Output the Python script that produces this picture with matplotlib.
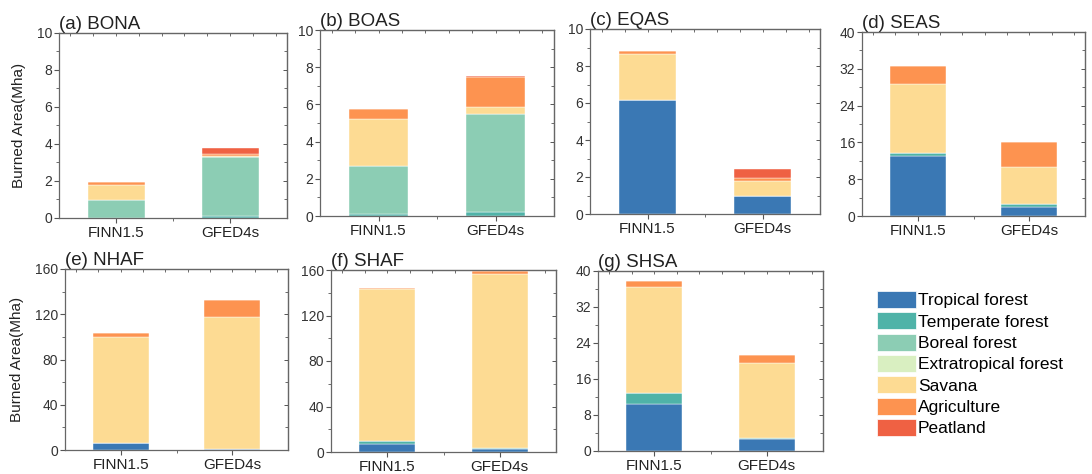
import numpy as np
import matplotlib
matplotlib.use('Agg')
import matplotlib.pyplot as plt
from matplotlib.ticker import MultipleLocator, FixedLocator
from matplotlib.patches import Patch

plt.rcParams['font.family'] = ['Liberation Sans', 'DejaVu Sans']

# 데이터 (Mha)
datasets = ['FINN1.5', 'GFED4s']
types = ['Tropical forest', 'Temperate forest', 'Boreal forest',
         'Extratropical forest', 'Savana', 'Agriculture', 'Peatland']
colors = ['#3a78b4', '#4fb3a8', '#8ccdb4', '#d9efc1', '#fddb93', '#fd9350', '#ef6143']

regions = ['(a) BONA', '(b) BOAS', '(c) EQAS', '(d) SEAS',
           '(e) NHAF', '(f) SHAF', '(g) SHSA']

# 각 지역: [FINN1.5, GFED4s], 순서 = types
BONA = [[0.0, 0.02, 0.94, 0.0, 0.83, 0.18, 0.0],
        [0.0, 0.1, 3.2, 0.0, 0.05, 0.13, 0.3]]
BOAS = [[0.0, 0.1, 2.6, 0.0, 2.52, 0.51, 0.0],
        [0.0, 0.2, 5.27, 0.0, 0.37, 1.61, 0.09]]
EQAS = [[6.18, 0.0, 0.0, 0.0, 2.49, 0.16, 0.0],
        [0.95, 0.0, 0.0, 0.0, 0.85, 0.15, 0.5]]
SEAS = [[13.1, 0.7, 0.0, 0.0, 14.9, 4.0, 0.0],
        [1.9, 0.8, 0.0, 0.0, 8.0, 5.3, 0.0]]
NHAF = [[5.9, 0.0, 0.0, 0.0, 94.4, 2.9, 0.0],
        [1.0, 0.0, 0.0, 0.0, 117.0, 15.0, 0.0]]
SHAF = [[6.8, 2.6, 0.0, 0.0, 133.9, 1.2, 0.0],
        [2.6, 0.6, 0.0, 0.0, 153.3, 2.9, 0.0]]
SHSA = [[10.4, 2.6, 0.0, 0.0, 23.4, 1.4, 0.0],
        [2.6, 0.36, 0.0, 0.0, 16.6, 1.7, 0.0]]

all_data = [BONA, BOAS, EQAS, SEAS, NHAF, SHAF, SHSA]
ymax = [10, 10, 10, 40, 160, 160, 40]
ystep = [2, 2, 2, 8, 40, 40, 8]

W, H = 1092, 474
# 픽셀 위치 (left, right, top, bottom)
boxes = [(59, 287, 33, 218), (320, 554, 30, 216), (590, 820, 29, 214), (862, 1085, 32, 216),
         (65, 288, 269, 450), (331, 556, 270, 452), (598, 823, 271, 451)]

fig = plt.figure(figsize=(W / 100, H / 100), dpi=100)
x = np.arange(1, len(datasets) + 1)

for i in range(len(regions)):
    l, r, t, b = boxes[i]
    ax = fig.add_axes([l / W, 1 - b / H, (r - l) / W, (b - t) / H])
    vals = np.array(all_data[i])
    bottom = np.zeros(len(datasets))
    for k in range(len(types)):
        ax.bar(x, vals[:, k], 0.5, bottom=bottom, color=colors[k],
               edgecolor='white', linewidth=0.3)
        bottom += vals[:, k]
    ax.set_xlim(0.5, 2.5)
    ax.set_ylim(0, ymax[i])
    ax.set_xticks(x)
    ax.set_xticklabels(datasets, fontsize=11, color='#222222')
    ax.xaxis.set_minor_locator(FixedLocator([1.5]))
    ax.yaxis.set_major_locator(MultipleLocator(ystep[i]))
    ax.yaxis.set_minor_locator(MultipleLocator(ystep[i] / 2))
    ax.tick_params(axis='y', labelsize=10, labelcolor='#333333')
    ax.tick_params(which='both', direction='out', color='#555555')
    ax.tick_params(which='major', length=3.5, width=0.8)
    ax.tick_params(which='minor', length=2, width=0.6)
    ax.tick_params(axis='x', pad=2)
    ax.tick_params(axis='y', pad=1.5)
    for sp in ax.spines.values():
        sp.set_color('#666666')
        sp.set_linewidth(0.9)
    # 윗쪽/오른쪽 눈금
    ax2 = ax.secondary_xaxis('top')
    ax2.set_xticks(np.arange(0.6, 2.5, 0.2))
    ax2.tick_params(direction='in', length=2.5, width=0.6, color='#555555', labeltop=False)
    ax3 = ax.secondary_yaxis('right')
    ax3.yaxis.set_major_locator(MultipleLocator(ystep[i]))
    ax3.yaxis.set_minor_locator(MultipleLocator(ystep[i] / 2))
    ax3.tick_params(which='both', direction='in', color='#555555', labelright=False)
    ax3.tick_params(which='major', length=3, width=0.7)
    ax3.tick_params(which='minor', length=2, width=0.6)
    ax.text(0.0, 1.0, regions[i], transform=ax.transAxes, fontsize=13.5,
            ha='left', va='bottom', color='#222222')
    if i in (0, 4):
        ax.set_ylabel('Burned Area(Mha)', fontsize=11, color='#222222', labelpad=8)

handles = [Patch(facecolor=colors[k], edgecolor='white', linewidth=0.5) for k in range(len(types))]
fig.legend(handles, types, loc='upper left', bbox_to_anchor=(870 / W, 1 - 284 / H),
           frameon=False, fontsize=12.5, handlelength=2.25, handleheight=1.15,
           handletextpad=0.1, labelspacing=0.22, borderaxespad=0)

fig.savefig('out.png', dpi=100)
